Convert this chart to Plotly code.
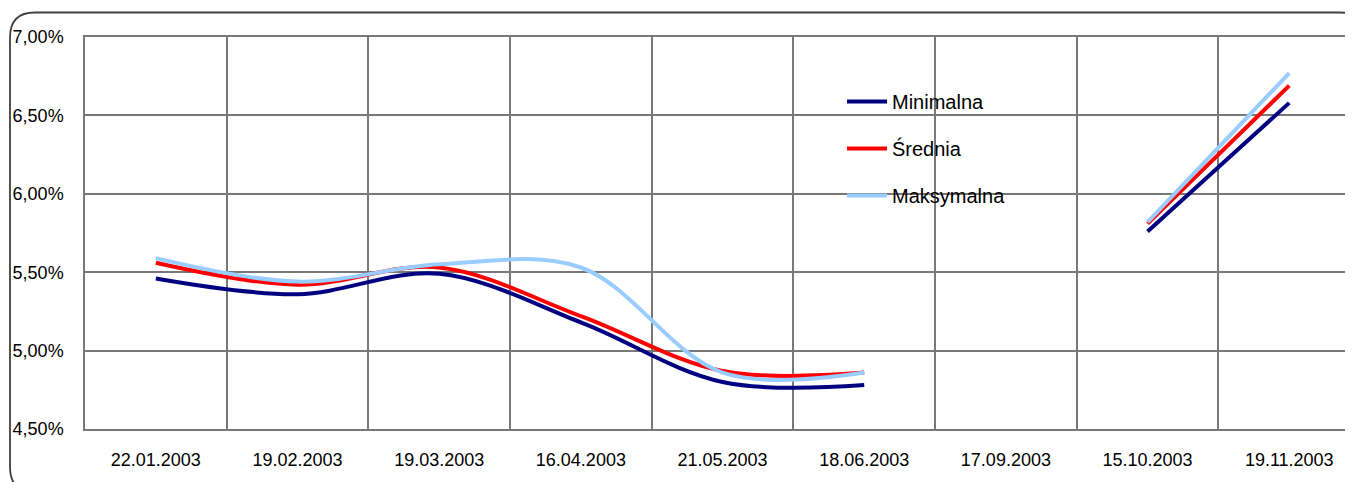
import plotly.graph_objects as go

# Dates of the tenders (category axis)
dates = ["22.01.2003", "19.02.2003", "19.03.2003", "16.04.2003", "21.05.2003",
         "18.06.2003", "17.09.2003", "15.10.2003", "19.11.2003"]

# Yields as fractions (None = no tender)
minimalna = [0.0546, 0.0536, 0.0549, 0.0518, 0.0480, 0.0478, None, 0.0576, 0.0658]
srednia = [0.0556, 0.0542, 0.0553, 0.0522, 0.0487, 0.0486, None, 0.0581, 0.0669]
maksymalna = [0.0559, 0.0544, 0.0555, 0.0553, 0.0486, 0.0486, None, 0.0582, 0.0677]

# the page body has an 8px margin, so the figure starts at (8, 8)
OFF = 8
W, H = 1353 - OFF, 482 - OFF
L, R, T, B = 85 - OFF, 0, 37 - OFF, 53
GRID = "#787878"
FONT = "Liberation Sans, Arial, sans-serif"


def to_paper(px, py):
    """page pixel position -> paper coords"""
    px, py = px - OFF, py - OFF
    return (px - L) / (W - L - R), (H - B - py) / (H - T - B)


def rounded_path(x0, y0, x1, y1, r):
    pts = [
        ("M", [(x0, y0 + r)]),
        ("Q", [(x0, y0), (x0 + r, y0)]),
        ("L", [(x1 - r, y0)]),
        ("Q", [(x1, y0), (x1, y0 + r)]),
        ("L", [(x1, y1 - r)]),
        ("Q", [(x1, y1), (x1 - r, y1)]),
        ("L", [(x0 + r, y1)]),
        ("Q", [(x0, y1), (x0, y1 - r)]),
    ]
    s = ""
    for cmd, coords in pts:
        s += cmd + " ".join("%.5f,%.5f" % to_paper(*c) for c in coords)
    return s + "Z"


fig = go.Figure()

series = [
    ("Minimalna", minimalna, "#000080"),
    ("Średnia", srednia, "#FF0000"),
    ("Maksymalna", maksymalna, "#99CCFF"),
]
for name, vals, color in series:
    fig.add_trace(go.Scatter(
        x=dates,
        y=vals,
        mode="lines",
        name=name,
        legendgroup=name,
        connectgaps=False,
        line=dict(color=color, width=4, shape="spline", smoothing=1),
    ))

# chart border with rounded corners
fig.add_shape(type="path", xref="paper", yref="paper",
              path=rounded_path(10, 12.5, 1365, 492, 25),
              line=dict(color="#404040", width=1.8), layer="above")

# white legend backing
lx0, ly0 = to_paper(794, 73)
lx1, ly1 = to_paper(1030, 218)
fig.add_shape(type="rect", xref="paper", yref="paper",
              x0=lx0, x1=lx1, y0=ly1, y1=ly0,
              fillcolor="white", line=dict(width=0), layer="between")

leg_x, leg_y = to_paper(842, 82)

fig.update_layout(
    width=W, height=H,
    margin=dict(l=L, r=R, t=T, b=B),
    paper_bgcolor="white",
    plot_bgcolor="white",
    separators=", ",
    font=dict(family=FONT, size=18, color="black"),
    showlegend=True,
    legend=dict(
        x=leg_x, y=leg_y, xanchor="left", yanchor="top",
        bgcolor="rgba(0,0,0,0)",
        font=dict(size=20),
        traceorder="grouped",
        tracegroupgap=18,
        itemwidth=40,
    ),
    xaxis=dict(
        type="category",
        range=[-0.5, 8.45],
        tickson="boundaries",
        ticks="",
        showgrid=True,
        gridcolor=GRID,
        gridwidth=1.5,
        showline=True,
        linecolor=GRID,
        linewidth=1.5,
        mirror=True,
        automargin=False,
        ticklabelstandoff=14,
        tickfont=dict(size=18),
    ),
    yaxis=dict(
        range=[0.045, 0.07],
        dtick=0.005,
        tickformat=".2%",
        showgrid=True,
        gridcolor=GRID,
        gridwidth=1.5,
        showline=True,
        linecolor=GRID,
        linewidth=1.5,
        zeroline=False,
        automargin=False,
        ticks="",
        ticklabelstandoff=16,
        tickfont=dict(size=18),
    ),
)

fig.write_html("out.html")
